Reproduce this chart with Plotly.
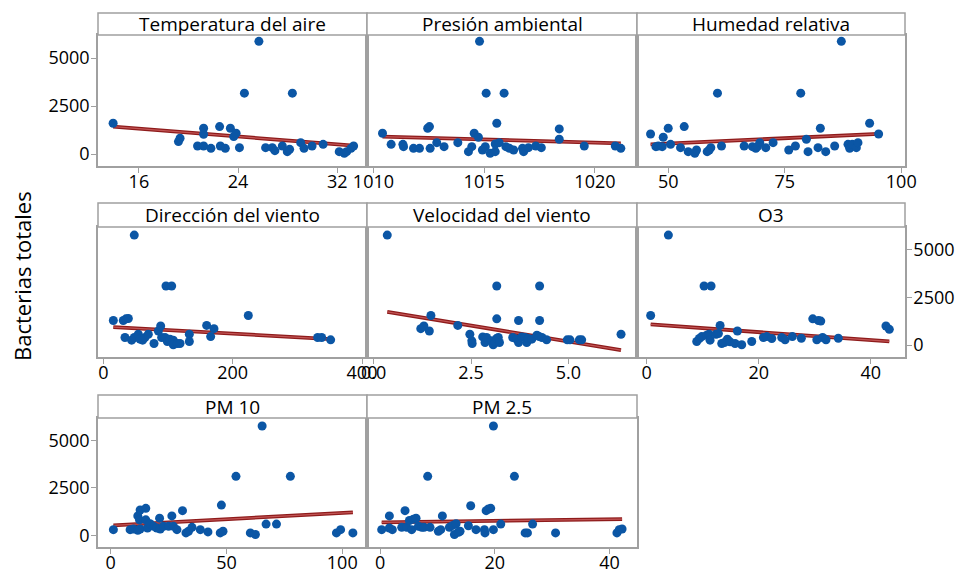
import plotly.graph_objects as go

W, H = 965, 573

# ---------------- data ----------------
titles = ["Temperatura del aire", "Presión ambiental", "Humedad relativa",
          "Dirección del viento", "Velocidad del viento", "O3",
          "PM 10", "PM 2.5"]

temp_x = [13.92, 25.68, 24.51, 28.38, 19.19, 19.32, 20.73, 21.22, 21.22, 21.22, 21.81, 22.51, 22.57,
          22.97, 23.38, 23.65, 23.84, 24.11, 26.22, 26.76, 26.97, 27.57, 27.97, 28.16, 29.05, 29.32,
          29.97, 30.86, 32.16, 32.57, 32.76, 33.11, 33.32]
temp_y = [1603, 5871, 3171, 3171, 645, 819, 418, 1341, 1028, 418, 296, 1429, 418, 296, 1341, 906,
          1080, 331, 331, 331, 174, 418, 122, 244, 592, 296, 418, 505, 122, 35, 122, 296, 418]

pres_x = [1010.41, 1010.80, 1011.33, 1011.36, 1011.81, 1012.08, 1012.45, 1012.53, 1012.56, 1012.86,
          1013.19, 1013.81, 1014.29, 1014.44, 1014.55, 1014.74, 1014.79, 1014.92, 1015.05, 1015.09,
          1015.27, 1015.50, 1015.50, 1015.57, 1015.68, 1015.90, 1015.98, 1016.14, 1016.33, 1016.73,
          1016.78, 1017.00, 1017.33, 1017.58, 1018.39, 1018.39, 1019.52, 1020.92, 1021.17]
pres_y = [1080, 505, 505, 383, 296, 296, 1341, 1429, 296, 592, 383, 592, 122, 383, 1080, 871, 5871,
          209, 383, 3171, 35, 122, 523, 1603, 592, 3171, 383, 296, 209, 296, 122, 331, 418, 331, 1307,
          767, 418, 418, 296]

hum_x = [46.21, 47.36, 47.86, 48.71, 48.93, 50.0, 50.5, 52.64, 53.43, 54.29, 55.71, 56.07, 58.36,
         58.79, 59.14, 60.57, 61.43, 66.29, 68.07, 68.79, 69.14, 69.64, 70.93, 72.5, 75.86, 77.29,
         78.43, 79.64, 80.0, 82.14, 82.64, 83.79, 85.71, 87.14, 88.57, 88.93, 89.5, 90.36, 90.71,
         93.21, 95.14]
hum_y = [1045, 383, 418, 383, 871, 1341, 505, 331, 1429, 122, 35, 209, 122, 209, 331, 3171, 418, 418,
         383, 296, 383, 592, 331, 592, 209, 418, 3171, 767, 122, 331, 1341, 122, 418, 5871, 505, 296,
         505, 331, 592, 1603, 1045]

dir_x = [15.5, 30.9, 35.1, 38.7, 33.5, 43.8, 47.9, 54.1, 56.7, 60.8, 64.4, 69.6, 47.9, 78.4, 85.1,
         88.7, 90.2, 95.4, 99.0, 103.1, 108.2, 108.2, 114.4, 118.6, 96.9, 105.7, 133, 133, 159.8, 166,
         171.1, 224.2, 331.4, 337.6, 351.5]
dir_y = [1293, 1293, 1379, 1397, 397, 259, 397, 569, 310, 259, 397, 569, 5776, 86, 741, 1000, 397,
         397, 190, 310, 259, 17, 86, 86, 3103, 3103, 569, 190, 1034, 448, 862, 1552, 397, 397, 276]

vel_x = [0.35, 1.21, 1.29, 1.43, 1.47, 2.16, 2.47, 2.52, 2.53, 2.80, 2.86, 2.86, 2.90, 3.03, 3.07,
         3.12, 3.16, 3.20, 3.23, 3.16, 3.16, 3.57, 3.67, 3.72, 3.80, 3.89, 3.93, 3.97, 4.06, 3.72,
         4.19, 4.25, 4.32, 4.44, 4.26, 4.26, 4.97, 5.04, 5.28, 5.34, 6.35]
vel_y = [5776, 862, 1000, 741, 1552, 1034, 569, 224, 86, 431, 345, 138, 397, 224, 17, 138, 345, 397,
         138, 3103, 1379, 397, 310, 138, 431, 397, 138, 345, 310, 1293, 517, 448, 397, 276, 3103,
         1293, 276, 276, 276, 276, 569]

o3_x = [0.71, 3.87, 8.93, 9.40, 9.82, 10.24, 11.49, 10.71, 11.13, 11.31, 12.38, 12.80, 13.1, 13.39,
        13.87, 14.4, 14.88, 15.77, 16.19, 16.96, 18.75, 20.83, 21.43, 22.32, 24.1, 24.7, 26.0, 27.6,
        29.64, 30.65, 31.07, 30.36, 31.4, 32.0, 34.2, 42.7, 43.3]
o3_y = [1552, 5776, 190, 345, 448, 3103, 3103, 517, 569, 259, 569, 603, 1034, 86, 138, 310, 172, 86,
        741, 17, 190, 397, 448, 345, 397, 276, 448, 362, 1379, 1293, 1259, 276, 397, 276, 362, 1000,
        828]

pm10_x = [1.15, 8.37, 9.81, 11.69, 12.70, 11.69, 12.70, 12.41, 15.15, 15.15, 15.87, 17.0, 18.5, 19.9,
          21.1, 21.4, 22.8, 25.0, 26.4, 27.1, 28.6, 31.0, 32.5, 33.6, 35.1, 38.7, 42.0, 47.3, 48.5,
          47.8, 54.1, 60.3, 62.5, 65.4, 67.1, 71.6, 77.6, 97.5, 99.3, 104.6]
pm10_y = [294, 294, 329, 260, 329, 1021, 1332, 813, 1419, 813, 381, 606, 467, 381, 900, 329, 467, 467,
          1021, 467, 294, 1298, 121, 208, 415, 294, 173, 121, 208, 1592, 3114, 121, 35, 5779, 588, 588,
          3114, 121, 294, 121]

pm25_x = [0.29, 1.63, 1.63, 2.15, 3.78, 4.36, 4.65, 5.12, 5.52, 5.81, 6.28, 6.69, 7.27, 7.67, 8.72,
          8.31, 10.17, 10.58, 10.87, 12.09, 12.67, 12.97, 13.26, 13.66, 13.95, 15.41, 15.81, 16.74,
          18.2, 18.3, 18.5, 18.9, 19.3, 19.77, 19.77, 21.05, 23.43, 25.3, 25.7, 26.6, 30.6, 41.3,
          41.7, 42.2]
pm25_y = [294, 1021, 381, 294, 415, 1298, 415, 779, 294, 848, 900, 467, 415, 415, 415, 3114, 208, 294,
          1021, 415, 519, 35, 606, 156, 208, 502, 1557, 294, 294, 121, 1298, 1384, 1419, 5779, 294, 588,
          3114, 121, 121, 588, 121, 121, 294, 329]

# fitted regression lines (slope, intercept)
fit_slope = [-51.4, -32.4, 11.07, -1.88, -334.0, -21.0, 6.69, 4.15]
fit_intercept = [2145, 33643, -7, 977, 1858, 1101, 511, 674]

x_ticks = [[16, 24, 32], [1010, 1015, 1020], [50, 75, 100], [0, 200, 400],
           [0, 2.5, 5.0], [0, 20, 40], [0, 50, 100], [0, 20, 40]]
y_ticks = [0, 2500, 5000]

xs = [temp_x, pres_x, hum_x, dir_x, vel_x, o3_x, pm10_x, pm25_x]
ys = [temp_y, pres_y, hum_y, dir_y, vel_y, o3_y, pm10_y, pm25_y]

# ---------------- layout geometry (pixels) ----------------
col_px = [(98, 367), (367, 637), (637, 905)]
row_px = [(13, 35, 166), (203, 227, 357), (395, 418, 547)]  # header top, plot top, plot bottom
x_ranges = [[12.7, 34.4], [1009.71, 1021.9], [43.3, 100.8], [-8.2, 407.7],
            [-0.17, 6.76], [-1.73, 46.1], [-5.5, 110.7], [-2.27, 44.8]]
y_range = [-625, 6200]

FONT = "Open Sans"
GREY = "#a0a0a0"
BLUE = "#0b56a5"
TXT = "#000000"

fig = go.Figure()
shapes, annotations = [], []

for i in range(8):
    r, c = divmod(i, 3)
    xl, xr = col_px[c]
    ht, pt, pb = row_px[r]
    ax = "" if i == 0 else str(i + 1)
    xa, ya = "x" + ax, "y" + ax

    lx = [min(xs[i]), max(xs[i])]
    ly = [fit_slope[i] * v + fit_intercept[i] for v in lx]
    fig.add_trace(go.Scatter(x=lx, y=ly, mode="lines", line=dict(color="#8e1b1b", width=3.8),
                             xaxis=xa, yaxis=ya, showlegend=False, hoverinfo="skip"))
    fig.add_trace(go.Scatter(x=lx, y=ly, mode="lines", line=dict(color="#c25555", width=1.2),
                             xaxis=xa, yaxis=ya, showlegend=False, hoverinfo="skip"))
    fig.add_trace(go.Scatter(x=xs[i], y=ys[i], mode="markers",
                             marker=dict(color=BLUE, size=9, line=dict(width=0)),
                             xaxis=xa, yaxis=ya, showlegend=False))

    xdom = [xl / W, xr / W]
    ydom = [1 - pb / H, 1 - pt / H]
    is5 = (i == 4)
    xaxis = dict(domain=xdom, range=x_ranges[i], anchor=ya, tickvals=x_ticks[i],
                 ticktext=[("%.1f" % v) if is5 else str(v) for v in x_ticks[i]],
                 ticks="outside", ticklen=5, tickcolor=GREY, tickwidth=1.3,
                 ticklabelstandoff=-6,
                 showline=True, linecolor=GREY, linewidth=1.5, mirror=True,
                 showgrid=False, zeroline=False, automargin=False,
                 tickfont=dict(family=FONT, size=18, color=TXT))
    show_y = i in (0, 5, 6)
    yaxis = dict(domain=ydom, range=y_range, anchor=xa,
                 showline=True, linecolor=GREY, linewidth=1.5, mirror=True,
                 showgrid=False, zeroline=False, automargin=False,
                 tickvals=y_ticks, showticklabels=show_y,
                 ticks="outside" if show_y else "", ticklen=5, tickcolor=GREY, tickwidth=1.3,
                 ticklabelstandoff=-2,
                 side="right" if i == 5 else "left",
                 tickfont=dict(family=FONT, size=18, color=TXT))
    fig.layout["xaxis" + ax] = xaxis
    fig.layout["yaxis" + ax] = yaxis

    shapes.append(dict(type="rect", xref="paper", yref="paper",
                       x0=xl / W, x1=xr / W, y0=1 - pt / H, y1=1 - ht / H,
                       line=dict(color=GREY, width=1.5), fillcolor="white", layer="above"))
    annotations.append(dict(text=titles[i], xref="paper", yref="paper",
                            x=(xl + xr) / 2 / W, y=1 - (ht + pt) / 2 / H,
                            xanchor="center", yanchor="middle", showarrow=False,
                            font=dict(family=FONT, size=19, color=TXT)))

annotations.append(dict(text="Bacterias totales", xref="paper", yref="paper",
                        x=22 / W, y=1 - 276 / H, textangle=-90, showarrow=False,
                        xanchor="center", yanchor="middle",
                        font=dict(family=FONT, size=22, color=TXT)))

fig.update_layout(width=W, height=H, margin=dict(l=0, r=0, t=0, b=0, autoexpand=False),
                  paper_bgcolor="white", plot_bgcolor="white",
                  shapes=shapes, annotations=annotations, showlegend=False)

fig.write_html("out.html")
